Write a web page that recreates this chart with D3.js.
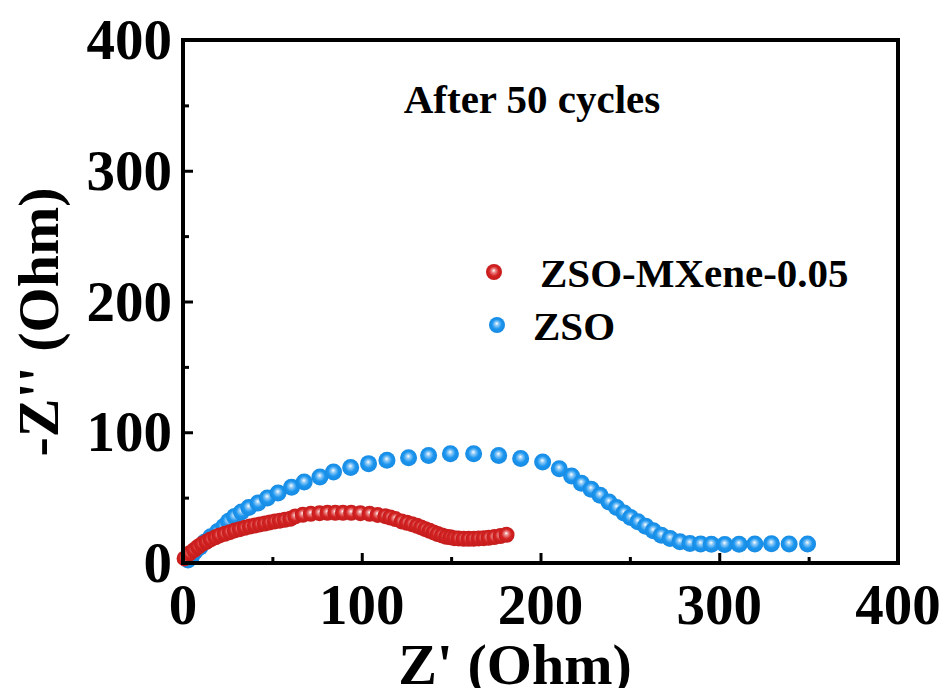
<!DOCTYPE html>
<html>
<head>
<meta charset="utf-8">
<script src="https://cdn.jsdelivr.net/npm/d3@7"></script>
<style>
  body { margin: 0; background: #fff; }
  text { font-family: "Liberation Serif", "Times New Roman", serif; font-weight: bold; }
</style>
</head>
<body>
<div id="chart"></div>
<script>
// ZSO-MXene-0.05 Nyquist points, [Z', -Z'']
var zsoMxene = [
    [0.9, 3.5], [3.7, 7.4], [6.2, 9.9], [8.4, 12.4], [10.6, 14.5], [13.1, 16.2],
    [15.5, 18.0], [18.1, 19.6], [20.5, 21.1], [23.4, 22.3], [26.2, 23.6], [29.0, 24.9],
    [31.8, 25.9], [34.6, 26.9], [37.4, 27.9], [40.2, 28.7], [43.0, 29.5], [45.8, 30.2],
    [48.6, 31.0], [51.4, 31.8], [54.2, 32.4], [57.0, 33.0], [60.0, 33.8], [62.8, 35.6],
    [67.0, 36.9], [71.5, 37.6], [76.4, 38.1], [80.8, 38.4], [85.2, 38.4], [89.5, 38.4],
    [94.1, 38.4], [99.2, 38.1], [104.4, 37.6], [108.9, 36.8], [113.2, 35.8], [116.0, 34.8],
    [118.8, 33.6], [122.3, 31.8], [125.3, 30.7], [128.1, 29.7], [130.9, 28.4], [133.2, 27.2],
    [135.6, 25.9], [138.0, 24.6], [140.2, 23.4], [142.5, 22.1], [144.9, 21.1], [147.3, 20.0],
    [149.6, 19.6], [151.8, 19.0], [154.2, 18.8], [157.0, 18.5], [159.8, 18.5], [162.6, 18.5],
    [165.4, 18.8], [168.2, 19.0], [171.0, 19.3], [174.2, 19.8], [177.6, 20.6], [181.0, 21.6]
];
// ZSO Nyquist points, [Z', -Z'']
var zso = [
    [2.8, 2.3], [4.7, 4.8], [6.6, 8.6], [9.4, 12.0], [12.2, 16.0], [15.5, 20.0],
    [19.4, 24.0], [22.8, 28.0], [25.5, 32.0], [28.8, 35.5], [32.7, 39.0], [36.8, 42.4],
    [42.0, 45.9], [47.2, 49.8], [53.2, 53.5], [60.7, 58.0], [67.8, 62.0], [76.6, 65.8],
    [84.2, 69.6], [93.8, 73.0], [103.8, 76.0], [114.1, 78.5], [126.2, 80.5], [137.4, 82.3],
    [149.6, 83.6], [162.6, 83.6], [176.6, 82.3], [188.9, 80.0], [201.2, 77.2], [210.5, 72.1],
    [217.4, 66.5], [222.9, 61.0], [228.3, 56.5], [233.3, 51.8], [238.3, 46.7], [242.6, 42.4],
    [246.7, 38.3], [250.4, 34.8], [254.5, 31.5], [258.8, 28.2], [263.1, 24.6], [267.6, 21.3],
    [272.5, 18.8], [278.0, 16.2], [283.6, 15.0], [289.6, 14.5], [295.6, 14.3], [303.1, 14.2],
    [311.1, 14.3], [319.9, 14.5], [329.2, 14.8], [339.1, 14.6], [349.4, 14.5]
];
var seriesNames = ["ZSO-MXene-0.05", "ZSO"];
var xTicks = [0, 100, 200, 300, 400];
var yTicks = [0, 100, 200, 300, 400];
var minorTicks = [50, 150, 250, 350];

var width = 944, height = 688;
var margin = {top: 40, right: 46, bottom: 125, left: 183};

var svg = d3.select("#chart").append("svg")
    .attr("width", width)
    .attr("height", height);

var x = d3.scaleLinear().domain([0, 400]).range([margin.left, width - margin.right]);
var y = d3.scaleLinear().domain([0, 400]).range([height - margin.bottom, margin.top]);

// shiny ball gradients
var defs = svg.append("defs");
function ball(id, light, base, dark) {
    var g = defs.append("radialGradient").attr("id", id)
        .attr("cx", "50%").attr("cy", "50%").attr("r", "55%")
        .attr("fx", "48%").attr("fy", "40%");
    g.append("stop").attr("offset", "0%").attr("stop-color", "#ffffff");
    g.append("stop").attr("offset", "22%").attr("stop-color", light);
    g.append("stop").attr("offset", "55%").attr("stop-color", base);
    g.append("stop").attr("offset", "100%").attr("stop-color", dark);
}
ball("ballRed", "#ec8a8a", "#d42222", "#c01a1a");
ball("ballBlue", "#8fcaf8", "#1b95ee", "#1688e0");

var series = [
    {name: seriesNames[0], data: zsoMxene, fill: "url(#ballRed)", r: 8},
    {name: seriesNames[1], data: zso, fill: "url(#ballBlue)", r: 8.5}
];

// points (ZSO below, then MXene on top)
series.slice().reverse().forEach(function (s) {
    svg.append("g").selectAll("circle")
        .data(s.data)
        .enter()
        .append("circle")
        .attr("cx", function (d) { return x(d[0]); })
        .attr("cy", function (d) { return y(d[1]); })
        .attr("r", s.r)
        .attr("fill", s.fill);
});

// axes: ticks point inward
svg.append("g")
    .attr("transform", "translate(0," + y(0) + ")")
    .call(d3.axisBottom(x).tickValues(xTicks).tickSize(-10).tickFormat(""));
svg.append("g")
    .attr("transform", "translate(0," + y(0) + ")")
    .call(d3.axisBottom(x).tickValues(minorTicks).tickSize(-6).tickFormat(""));
svg.append("g")
    .attr("transform", "translate(" + x(0) + ",0)")
    .call(d3.axisLeft(y).tickValues(yTicks).tickSize(-10).tickFormat(""));
svg.append("g")
    .attr("transform", "translate(" + x(0) + ",0)")
    .call(d3.axisLeft(y).tickValues(minorTicks).tickSize(-6).tickFormat(""));
svg.selectAll(".domain").remove();
svg.selectAll(".tick line").attr("stroke", "#000").attr("stroke-width", 3);

// frame
svg.append("rect")
    .attr("x", x(0)).attr("y", y(400))
    .attr("width", x(400) - x(0)).attr("height", y(0) - y(400))
    .attr("fill", "none").attr("stroke", "#000").attr("stroke-width", 4);

// tick labels
svg.append("g").selectAll("text")
    .data(xTicks).enter().append("text")
    .attr("x", function (d) { return x(d); })
    .attr("y", y(0) + 61)
    .attr("text-anchor", "middle")
    .attr("font-size", 57)
    .text(function (d) { return d; });
svg.append("g").selectAll("text")
    .data(yTicks).enter().append("text")
    .attr("x", x(0) - 11)
    .attr("y", function (d) { return y(d) + 19; })
    .attr("text-anchor", "end")
    .attr("font-size", 57)
    .text(function (d) { return d; });

// axis titles (the reference crops the x title at the bottom edge)
svg.append("text")
    .attr("x", 515).attr("y", 684)
    .attr("text-anchor", "middle")
    .attr("font-size", 58)
    .text("Z' (Ohm)");
svg.append("text")
    .attr("transform", "translate(58,322) rotate(-90)")
    .attr("text-anchor", "middle")
    .attr("font-size", 58)
    .text("-Z'' (Ohm)");

svg.append("text")
    .attr("x", 532).attr("y", 113)
    .attr("text-anchor", "middle")
    .attr("font-size", 41)
    .text("After 50 cycles");

// legend
var legend = svg.append("g");
legend.append("circle").attr("cx", 494).attr("cy", 272).attr("r", 8).attr("fill", series[0].fill);
legend.append("text").attr("x", 540).attr("y", 287).attr("font-size", 41).text(series[0].name);
legend.append("circle").attr("cx", 497).attr("cy", 325).attr("r", 8).attr("fill", series[1].fill);
legend.append("text").attr("x", 533).attr("y", 340).attr("font-size", 41).text(series[1].name);
</script>
</body>
</html>
